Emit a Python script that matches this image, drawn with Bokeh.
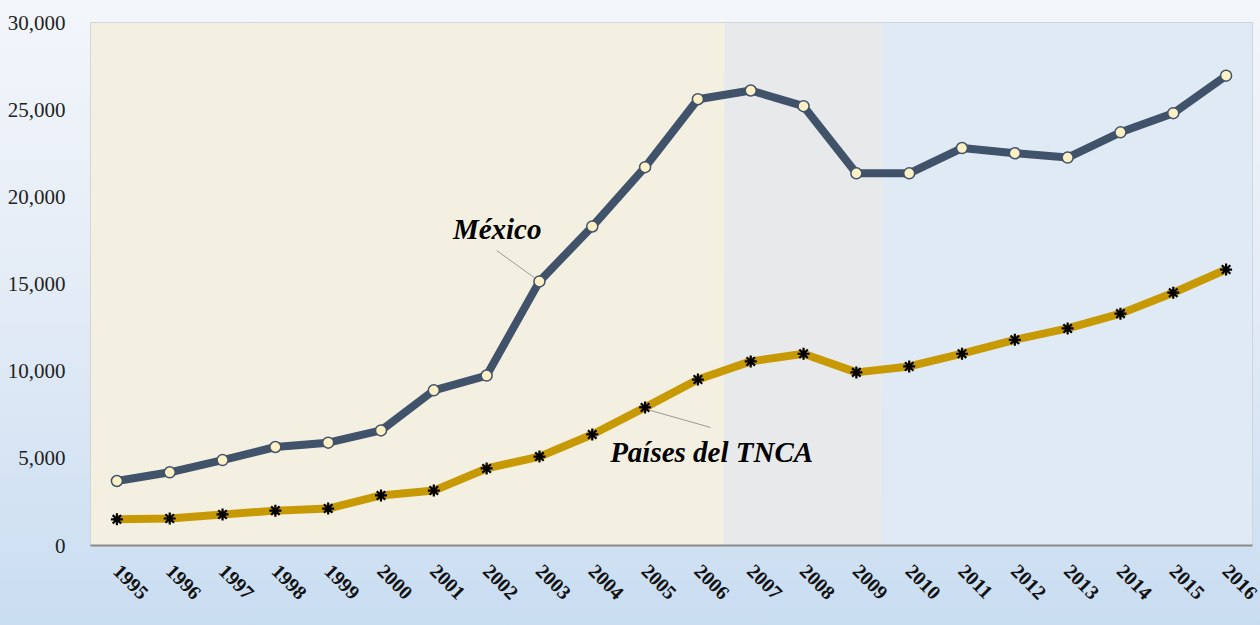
import math
from bokeh.plotting import figure
from bokeh.models import (ColumnDataSource, BoxAnnotation, Label, FixedTicker,
                          NumeralTickFormatter, Range1d)
from bokeh.embed import file_html
from bokeh.resources import INLINE

years = list(range(1995, 2017))
mexico = [3700, 4200, 4900, 5650, 5900, 6600, 8900, 9750, 15150, 18300, 21700,
          25600, 26100, 25200, 21350, 21350, 22800, 22500, 22250, 23700, 24800, 26950]
tnca = [1500, 1550, 1780, 2000, 2120, 2870, 3150, 4420, 5100, 6370, 7920,
        9520, 10560, 11000, 9930, 10270, 11000, 11800, 12450, 13300, 14500, 15830]
y_ticks = [0, 5000, 10000, 15000, 20000, 25000, 30000]
period_edges = [1995, 2007, 2010, 2016]  # first year of each shaded period, last year
period_colors = ["#f4f0e1", "#e7e9eb", "#e0eaf5"]

src = ColumnDataSource(dict(year=years, mexico=mexico, tnca=tnca))

p = figure(width=1260, height=625, output_backend="svg", toolbar_location=None,
           x_range=Range1d(years[0] - 0.5, years[-1] + 0.5),
           y_range=Range1d(0, 30000),
           min_border_left=90, min_border_right=8, min_border_top=22, min_border_bottom=80)
p.styles = {"background": "linear-gradient(to bottom, #f3f6fb 0%, #e4ecf6 45%, #c9ddf1 100%)"}
p.border_fill_color = None
p.background_fill_color = None
p.outline_line_color = "#c9ced6"
p.outline_line_width = 1

# shaded periods
for i, col in enumerate(period_colors):
    left = period_edges[i] - 0.5
    right = period_edges[i + 1] - 0.5 if i < len(period_colors) - 1 else period_edges[i + 1] + 0.5
    p.add_layout(BoxAnnotation(left=left, right=right, fill_color=col, fill_alpha=1,
                               line_color=None, level="underlay"))

p.xgrid.grid_line_color = None
p.ygrid.grid_line_color = "#ddd5c8"
p.ygrid.grid_line_alpha = 0.6
p.ygrid.ticker = FixedTicker(ticks=y_ticks)

# lines
p.line("year", "mexico", source=src, line_color="#41526b", line_width=8, line_join="round")
p.scatter("year", "mexico", source=src, marker="circle", size=11, fill_color="#fdf0c4",
          line_color="#41526b", line_width=1.5)
p.line("year", "tnca", source=src, line_color="#c79a05", line_width=8, line_join="round")
p.scatter("year", "tnca", source=src, marker="asterisk", size=12, line_color="black",
          line_width=2.2)

# leader lines and labels
p.segment(x0=[2002.19, 2005.1], y0=[16920, 7750], x1=[2002.9, 2006.24], y1=[15370, 6770],
          line_color="#999999", line_width=1)
p.add_layout(Label(x=2002.2, y=18150, text="México", text_font="Liberation Serif",
                   text_font_style="bold italic", text_font_size="29px", text_align="center",
                   text_baseline="middle", text_color="black"))
p.add_layout(Label(x=2006.26, y=5340, text="Países del TNCA", text_font="Liberation Serif",
                   text_font_style="bold italic", text_font_size="29px", text_align="center",
                   text_baseline="middle", text_color="black"))

# axes
p.xaxis.ticker = FixedTicker(ticks=years)
p.xaxis.major_label_orientation = -math.pi / 4
p.xaxis.major_label_text_font = "Liberation Serif"
p.xaxis.major_label_text_font_style = "bold"
p.xaxis.major_label_text_font_size = "20px"
p.xaxis.major_label_text_color = "#111111"
p.xaxis.axis_line_color = "#8a8a8a"
p.xaxis.axis_line_width = 2
p.xaxis.major_tick_line_color = None
p.xaxis.minor_tick_line_color = None
p.xaxis.major_label_standoff = 16

p.yaxis.ticker = FixedTicker(ticks=y_ticks)
p.yaxis.formatter = NumeralTickFormatter(format="0,0")
p.yaxis.major_label_text_font = "Liberation Serif"
p.yaxis.major_label_text_font_size = "21px"
p.yaxis.major_label_text_color = "#222222"
p.yaxis.axis_line_color = None
p.yaxis.major_tick_line_color = None
p.yaxis.minor_tick_line_color = None
p.yaxis.major_label_standoff = 19

open("out.html", "w").write(file_html(p, INLINE))
